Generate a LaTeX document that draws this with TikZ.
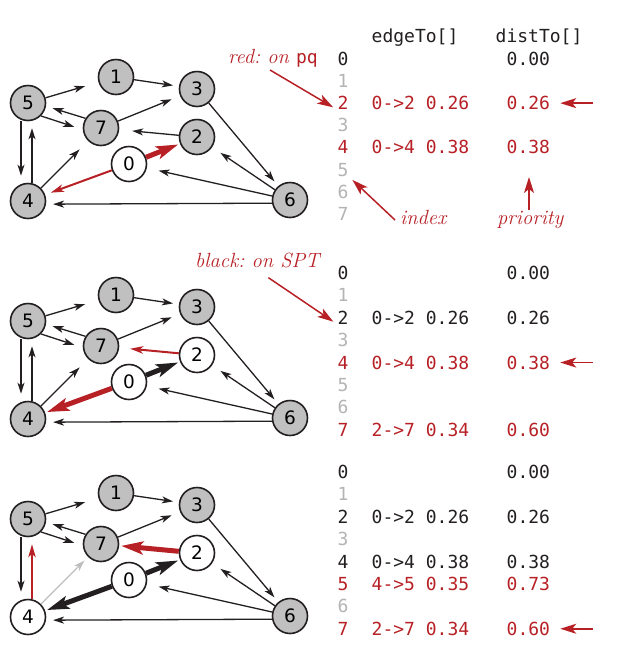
\documentclass[tikz,border=0pt]{standalone}
\usepackage{fontspec}
\newfontfamily\codefont{DejaVu Sans Mono}
\newfontfamily\vertexfont{DejaVu Sans}
\usetikzlibrary{arrows.meta}
\definecolor{ink}{RGB}{35,31,32}
\definecolor{pqred}{RGB}{183,33,38}
\definecolor{vgray}{RGB}{192,192,192}
\definecolor{idxgray}{RGB}{180,180,180}
\definecolor{deadgray}{RGB}{190,190,190}

\begin{document}
\begin{tikzpicture}[x=1pt,y=-1pt,
    vertex/.style={circle,draw=ink,line width=1.6pt,fill=vgray,minimum size=35pt,inner sep=0pt,
                   font=\vertexfont\fontsize{18.5}{20}\selectfont},
    done/.style={vertex,fill=white},
    plain edge/.style={color=ink,line width=1.3pt,-{Stealth[length=11pt,width=7pt,inset=3pt]},shorten >=9pt},
    pq edge/.style={plain edge,color=pqred,line width=2pt,-{Stealth[length=13pt,width=7.5pt,inset=3.5pt]},shorten >=6pt},
    spt edge/.style={plain edge,line width=5pt,-{Stealth[length=22pt,width=13pt,inset=5pt]},shorten >=2pt},
    next edge/.style={spt edge,color=pqred},
    dead edge/.style={plain edge,color=deadgray},
    code/.style={font=\codefont\fontsize{18}{20}\selectfont,inner sep=0pt,anchor=base west},
    note/.style={font=\fontsize{20.5}{24}\selectfont\itshape\frenchspacing,text=pqred,inner sep=0pt,anchor=base west},
    note arrow/.style={draw=pqred,line width=1.5pt,-{Stealth[length=16pt,width=10pt,inset=4pt]},shorten >=5pt},
    marker/.style={draw=pqred,line width=1.5pt,-{Stealth[length=16pt,width=10pt,inset=4pt]}}
  ]
  \useasboundingbox (0,0) rectangle (619,657);

  % first step: 0 taken, edges 0->2 and 0->4 on pq
  \node[vertex] (a5) at (28,103) {5};
  \node[vertex] (a1) at (116,77) {1};
  \node[vertex] (a3) at (197,89) {3};
  \node[vertex] (a7) at (101,128) {7};
  \node[vertex] (a2) at (197,137) {2};
  \node[done]   (a0) at (129,164) {0};
  \node[vertex] (a4) at (28,201) {4};
  \node[vertex] (a6) at (290,200) {6};

  \path[plain edge]
    (a5) edge[shorten >=14pt] (a1)
    (a1) edge[shorten >=6pt] (a3)
    (a7.148) edge[shorten >=7pt] (a5.-10)
    (a5.-45) edge (a7.185)
    (a7) edge (a3)
    (a2) edge[shorten >=13pt] (a7)
    ([xshift=-7pt]a5.south) edge[shorten >=7pt] ([xshift=-7pt]a4.north)
    ([xshift=4pt]a4.north) edge[shorten >=7pt] ([xshift=4pt]a5.south)
    (a4) edge[shorten >=12pt] (a7)
    (a3) edge[shorten >=6pt] (a6)
    (a6) edge[shorten >=10pt] (a2)
    (a6) edge[shorten >=12pt] (a0)
    (a6.190) edge[shorten >=7pt] (a4.-10);
  \path[pq edge] (a0) edge (a4);
  \path[next edge] (a0) edge (a2);

  \node[code,text=ink] (hedge) at (371.5,42) {edgeTo[]};
  \node[code,text=ink] (hdist) at (495.5,42) {distTo[]};
  \foreach \i/\c in {0/ink,1/idxgray,2/pqred,3/idxgray,4/pqred,5/idxgray,6/idxgray,7/idxgray}
    \node[code,text=\c] (ai\i) at (337.5,{65.5+22.1*\i}) {\i};
  \node[code,text=ink]   (ad0) at (506.5,65.5) {0.00};
  \node[code,text=pqred] (ae2) at (371.5,109.7) {0->2 0.26};
  \node[code,text=pqred] (ad2) at (506.5,109.7) {0.26};
  \node[code,text=pqred] (ae4) at (371.5,153.9) {0->4 0.38};
  \node[code,text=pqred] (ad4) at (506.5,153.9) {0.38};
  \draw[marker] ([xshift=43pt]ad2.east) -- ([xshift=10pt]ad2.east);

  \node[note] (lblpq) at (228,63) {red: on {\upshape\codefont\fontsize{18}{20}\selectfont pq}};
  \node[note] (lblidx) at (400,224) {index};
  \node[note] (lblpri) at (497,224) {priority};
  \coordinate (pritip) at (529,177);
  \draw[note arrow] ([xshift=-3pt,yshift=-3pt]lblpq.south) -- (ai2.south west);
  \draw[note arrow] ([xshift=-5pt,yshift=-3pt]lblidx.west) -- (ai5.south east);
  \draw[note arrow,shorten >=0pt] (lblpri.north -| pritip) -- (pritip);

  % second step: 2 taken, 2->7 on pq
  \begin{scope}[shift={(0,218)}]
    \node[vertex] (b5) at (28,103) {5};
    \node[vertex] (b1) at (116,77) {1};
    \node[vertex] (b3) at (197,89) {3};
    \node[vertex] (b7) at (101,128) {7};
    \node[done]   (b2) at (197,137) {2};
    \node[done]   (b0) at (129,164) {0};
    \node[vertex] (b4) at (28,201) {4};
    \node[vertex] (b6) at (290,200) {6};
  \end{scope}

  \path[plain edge]
    (b5) edge[shorten >=14pt] (b1)
    (b1) edge[shorten >=6pt] (b3)
    (b7.148) edge[shorten >=7pt] (b5.-10)
    (b5.-45) edge (b7.185)
    (b7) edge (b3)
    ([xshift=-7pt]b5.south) edge[shorten >=7pt] ([xshift=-7pt]b4.north)
    ([xshift=4pt]b4.north) edge[shorten >=7pt] ([xshift=4pt]b5.south)
    (b4) edge[shorten >=12pt] (b7)
    (b3) edge[shorten >=6pt] (b6)
    (b6) edge[shorten >=10pt] (b2)
    (b6) edge[shorten >=12pt] (b0)
    (b6.190) edge[shorten >=7pt] (b4.-10);
  \path[pq edge] (b2) edge[shorten >=11pt] (b7);
  \path[spt edge] (b0) edge (b2);
  \path[next edge] (b0) edge (b4);

  \foreach \i/\c in {0/ink,1/idxgray,2/ink,3/idxgray,4/pqred,5/idxgray,6/idxgray,7/pqred}
    \node[code,text=\c] (bi\i) at (337.5,{279.5+22.4*\i}) {\i};
  \node[code,text=ink]   (bd0) at (506.5,279.5) {0.00};
  \node[code,text=ink]   (be2) at (371.5,324.3) {0->2 0.26};
  \node[code,text=ink]   (bd2) at (506.5,324.3) {0.26};
  \node[code,text=pqred] (be4) at (371.5,369.1) {0->4 0.38};
  \node[code,text=pqred] (bd4) at (506.5,369.1) {0.38};
  \node[code,text=pqred] (be7) at (371.5,436.3) {2->7 0.34};
  \node[code,text=pqred] (bd7) at (506.5,436.3) {0.60};
  \draw[marker] ([xshift=43pt]bd4.east) -- ([xshift=10pt]bd4.east);

  \node[note] (lblspt) at (195,267) {black: on SPT};
  \draw[note arrow] ([xshift=11pt,yshift=-10pt]lblspt.south) -- (bi2.south west);

  % third step: 4 taken, 4->5 on pq, 4->7 ineligible
  \begin{scope}[shift={(0,416)}]
    \node[vertex] (c5) at (28,103) {5};
    \node[vertex] (c1) at (116,77) {1};
    \node[vertex] (c3) at (197,89) {3};
    \node[vertex] (c7) at (101,128) {7};
    \node[done]   (c2) at (197,137) {2};
    \node[done]   (c0) at (129,164) {0};
    \node[done]   (c4) at (28,201) {4};
    \node[vertex] (c6) at (290,200) {6};
  \end{scope}

  \path[plain edge]
    (c5) edge[shorten >=14pt] (c1)
    (c1) edge[shorten >=6pt] (c3)
    (c7.148) edge[shorten >=7pt] (c5.-10)
    (c5.-45) edge (c7.185)
    (c7) edge (c3)
    ([xshift=-7pt]c5.south) edge[shorten >=7pt] ([xshift=-7pt]c4.north)
    (c3) edge[shorten >=6pt] (c6)
    (c6) edge[shorten >=10pt] (c2)
    (c6) edge[shorten >=12pt] (c0)
    (c6.190) edge[shorten >=7pt] (c4.-10);
  \path[dead edge] (c4) edge[shorten >=5pt] (c7);
  \path[pq edge] ([xshift=4pt]c4.north) edge[shorten >=7pt] ([xshift=4pt]c5.south);
  \path[spt edge] (c0) edge (c2) (c0) edge (c4);
  \path[next edge] (c2) edge (c7);

  \foreach \i/\c in {0/ink,1/idxgray,2/ink,3/idxgray,4/ink,5/pqred,6/idxgray,7/pqred}
    \node[code,text=\c] (ci\i) at (337.5,{478.5+22.4*\i}) {\i};
  \node[code,text=ink]   (cd0) at (506.5,478.5) {0.00};
  \node[code,text=ink]   (ce2) at (371.5,523.3) {0->2 0.26};
  \node[code,text=ink]   (cd2) at (506.5,523.3) {0.26};
  \node[code,text=ink]   (ce4) at (371.5,568.1) {0->4 0.38};
  \node[code,text=ink]   (cd4) at (506.5,568.1) {0.38};
  \node[code,text=pqred] (ce5) at (371.5,590.5) {4->5 0.35};
  \node[code,text=pqred] (cd5) at (506.5,590.5) {0.73};
  \node[code,text=pqred] (ce7) at (371.5,635.3) {2->7 0.34};
  \node[code,text=pqred] (cd7) at (506.5,635.3) {0.60};
  \draw[marker] ([xshift=43pt]cd7.east) -- ([xshift=10pt]cd7.east);
\end{tikzpicture}
\end{document}
